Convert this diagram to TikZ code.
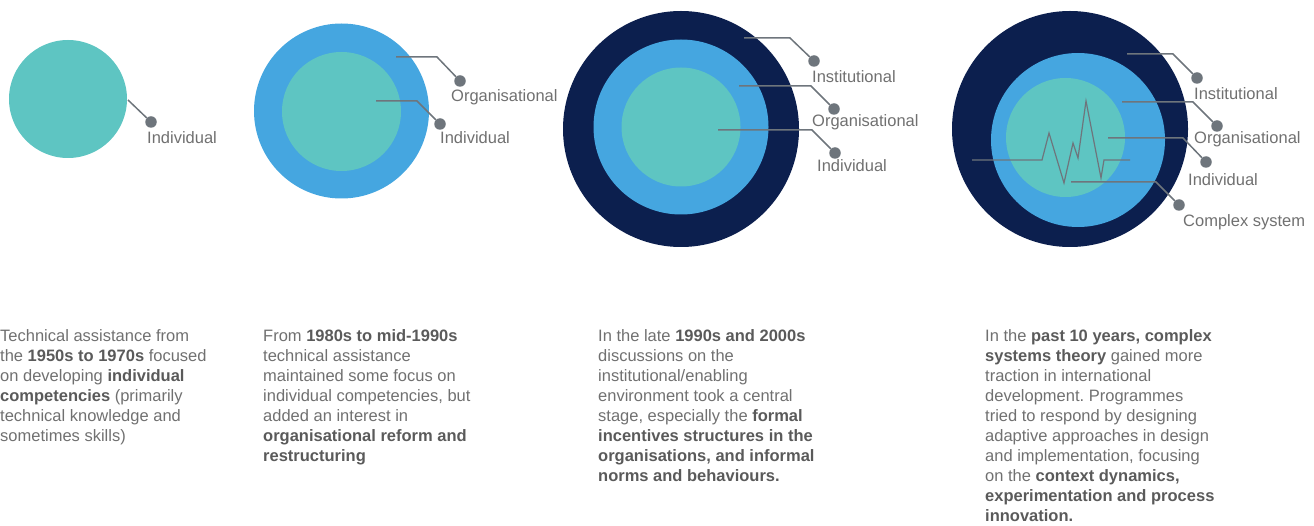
\documentclass[tikz,border=0pt]{standalone}
\usepackage{fontspec}
\setmainfont{Liberation Sans}
\frenchspacing
\definecolor{teal1}{HTML}{5EC5C2}
\definecolor{blue1}{HTML}{45A6E0}
\definecolor{navy1}{HTML}{0C1F4E}
\definecolor{leadgray}{HTML}{6E757C}
\definecolor{txtgray}{HTML}{707070}
\definecolor{boldgray}{HTML}{5A5A5A}
\newcommand{\bb}[1]{{\color{boldgray}\textbf{#1}}}
\begin{document}
\begin{tikzpicture}[x=1pt,y=-1pt,
  disc/.style={circle,inner sep=0pt,minimum size=#1},
  leader/.style={draw=leadgray,line width=1.5pt},
  dotnode/.style={circle,fill=leadgray,inner sep=0pt,minimum size=11.5pt},
  lab/.style={anchor=base west,inner sep=0pt,text=txtgray,font=\fontsize{16.5}{19}\selectfont},
  body/.style={anchor=north west,inner sep=0pt,align=left,text=txtgray,font=\fontsize{16.5}{20}\selectfont}]
\useasboundingbox (0,0) rectangle (1314,526);

% ---------- Diagram 1
\node[disc=118pt,fill=teal1] (c1i) at (68,99) {};
\coordinate (s1i) at (128,100);
\node[dotnode] (d1i) at (151,122) {};
\draw[leader] (s1i) -- (d1i);
\node[lab] (l1i) at (147,144) {Individual};

% ---------- Diagram 2
\node[disc=175pt,fill=blue1] (c2o) at (341.5,111) {};
\node[disc=119pt,fill=teal1] (c2i) at (341.5,111.5) {};
\coordinate (s2o) at (396,57);
\node[dotnode] (d2o) at (460,81) {};
\draw[leader] (s2o) -- (437,57) -- (d2o);
\node[lab] (l2o) at (451,102) {Organisational};
\coordinate (s2i) at (376,101);
\node[dotnode] (d2i) at (440,124) {};
\draw[leader] (s2i) -- (417,101) -- (d2i);
\node[lab] (l2i) at (440,144) {Individual};

% ---------- Diagram 3
\node[disc=236pt,fill=navy1] (c3n) at (681,129) {};
\node[disc=175pt,fill=blue1] (c3o) at (681,127) {};
\node[disc=119pt,fill=teal1] (c3i) at (681,127) {};
\coordinate (s3n) at (744,38);
\node[dotnode] (d3n) at (814,61) {};
\draw[leader] (s3n) -- (790,38) -- (d3n);
\node[lab] (l3n) at (812,83) {Institutional};
\coordinate (s3o) at (739,86);
\node[dotnode] (d3o) at (834,109) {};
\draw[leader] (s3o) -- (811,86) -- (d3o);
\node[lab] (l3o) at (812,127) {Organisational};
\coordinate (s3i) at (718,130);
\node[dotnode] (d3i) at (835,153) {};
\draw[leader] (s3i) -- (812,130) -- (d3i);
\node[lab] (l3i) at (817,172) {Individual};

% ---------- Diagram 4
\node[disc=236pt,fill=navy1] (c4n) at (1070,129) {};
\node[disc=174pt,fill=blue1] (c4o) at (1078,140) {};
\node[disc=119pt,fill=teal1] (c4i) at (1065.5,137.5) {};
\coordinate (zs) at (972,160);
\coordinate (ze) at (1130,160);
\draw[draw=leadgray,line width=1.2pt,line join=miter] (zs) -- (1042,160) -- (1049,133) -- (1064,183) -- (1073,143) -- (1078,158) -- (1086,101) -- (1101,178) -- (1104,160) -- (ze);
\coordinate (s4n) at (1127,54);
\node[dotnode] (d4n) at (1197,78) {};
\draw[leader] (s4n) -- (1173,54) -- (d4n);
\node[lab] (l4n) at (1194,100) {Institutional};
\coordinate (s4o) at (1122,102);
\node[dotnode] (d4o) at (1217,126) {};
\draw[leader] (s4o) -- (1193,102) -- (d4o);
\node[lab] (l4o) at (1194,144) {Organisational};
\coordinate (s4i) at (1108,138);
\node[dotnode] (d4i) at (1206,162) {};
\draw[leader] (s4i) -- (1183,138) -- (d4i);
\node[lab] (l4i) at (1188,186) {Individual};
\coordinate (s4c) at (1071,182);
\node[dotnode] (d4c) at (1179,205) {};
\draw[leader] (s4c) -- (1156,182) -- (d4c);
\node[lab] (l4c) at (1183,227) {Complex system};

% ---------- Texts
\node[body] (t1) at (0,329.5) {Technical assistance from\\
the \bb{1950s to 1970s} focused\\
on developing \bb{individual}\\
\bb{competencies} (primarily\\
technical knowledge and\\
sometimes skills)};

\node[body] (t2) at (263,329.5) {From \bb{1980s to mid-1990s}\\
technical assistance\\
maintained some focus on\\
individual competencies, but\\
added an interest in\\
\bb{organisational reform and}\\
\bb{restructuring}};

\node[body] (t3) at (598,329.5) {In the late \bb{1990s and 2000s}\\
discussions on the\\
institutional/enabling\\
environment took a central\\
stage, especially the \bb{formal}\\
\bb{incentives structures in the}\\
\bb{organisations, and informal}\\
\bb{norms and behaviours.}};

\node[body] (t4) at (985,329.5) {In the \bb{past 10 years, complex}\\
\bb{systems theory} gained more\\
traction in international\\
development. Programmes\\
tried to respond by designing\\
adaptive approaches in design\\
and implementation, focusing\\
on the \bb{context dynamics,}\\
\bb{experimentation and process}\\
\bb{innovation.}};
\end{tikzpicture}
\end{document}
